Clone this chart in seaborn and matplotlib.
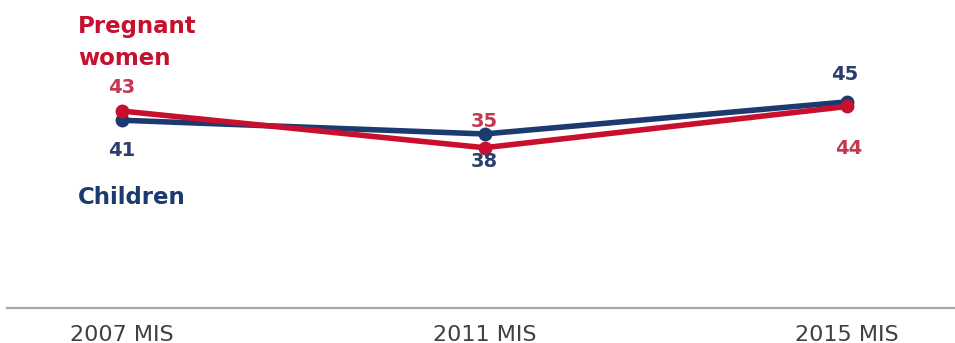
import matplotlib
matplotlib.use("Agg")
import matplotlib.pyplot as plt
import seaborn as sns
import pandas as pd

categories = ["2007 MIS", "2011 MIS", "2015 MIS"]
pregnant_women = [43, 35, 44]
children = [41, 38, 45]
series_names = ["Children", "Pregnant women"]

RED = "#C8102E"
NAVY = "#1B3A6F"
RED_TXT = "#C23A50"
NAVY_TXT = "#2A3F6E"

df = pd.DataFrame({
    "survey": categories * 2,
    "value": children + pregnant_women,
    "group": [series_names[0]] * 3 + [series_names[1]] * 3,
})

sns.set_style("white")
plt.rcParams["font.family"] = ["DejaVu Sans"]

W, H = 955, 343
fig = plt.figure(figsize=(W / 100, H / 100), dpi=100)
ax = fig.add_axes([7 / W, (H - 308) / H, 948 / W, 308 / H])

sns.lineplot(data=df, x="survey", y="value", hue="group", sort=False,
             hue_order=series_names, palette=[NAVY, RED],
             marker="o", markersize=10, markeredgewidth=0,
             linewidth=4.0, legend=False, ax=ax)

ax.set_xlim(-115 / 362.5, 2 + 108 / 362.5)
ax.set_ylim(0, 308 / 4.58)
ax.set_xlabel("")
ax.set_ylabel("")
ax.set_yticks([])
ax.tick_params(axis="x", length=0, pad=12, labelsize=16, labelcolor="#404040")
for s in ["top", "left", "right"]:
    ax.spines[s].set_visible(False)
ax.spines["bottom"].set_color("#A6A6A6")
ax.spines["bottom"].set_linewidth(1.6)

# data labels (pixel offsets relative to each point)
red_offsets = [(0, 24), (0, 26), (2, -42)]
navy_offsets = [(0, -30), (0, -28), (-2, 27)]
for i, (v, off) in enumerate(zip(pregnant_women, red_offsets)):
    ax.annotate(str(v), (i, v), xytext=off, textcoords="offset pixels",
                ha="center", va="center", fontsize=14, fontweight="bold",
                color=RED_TXT)
for i, (v, off) in enumerate(zip(children, navy_offsets)):
    ax.annotate(str(v), (i, v), xytext=off, textcoords="offset pixels",
                ha="center", va="center", fontsize=14, fontweight="bold",
                color=NAVY_TXT)

# series names
fig.text(78 / W, 1 - 33 / H, "Pregnant", fontsize=16.5, fontweight="bold",
         color=RED, ha="left", va="baseline")
fig.text(78 / W, 1 - 65 / H, "women", fontsize=16.5, fontweight="bold",
         color=RED, ha="left", va="baseline")
fig.text(78 / W, 1 - 204 / H, "Children", fontsize=16.5, fontweight="bold",
         color=NAVY, ha="left", va="baseline")

fig.savefig("out.png", dpi=100)
